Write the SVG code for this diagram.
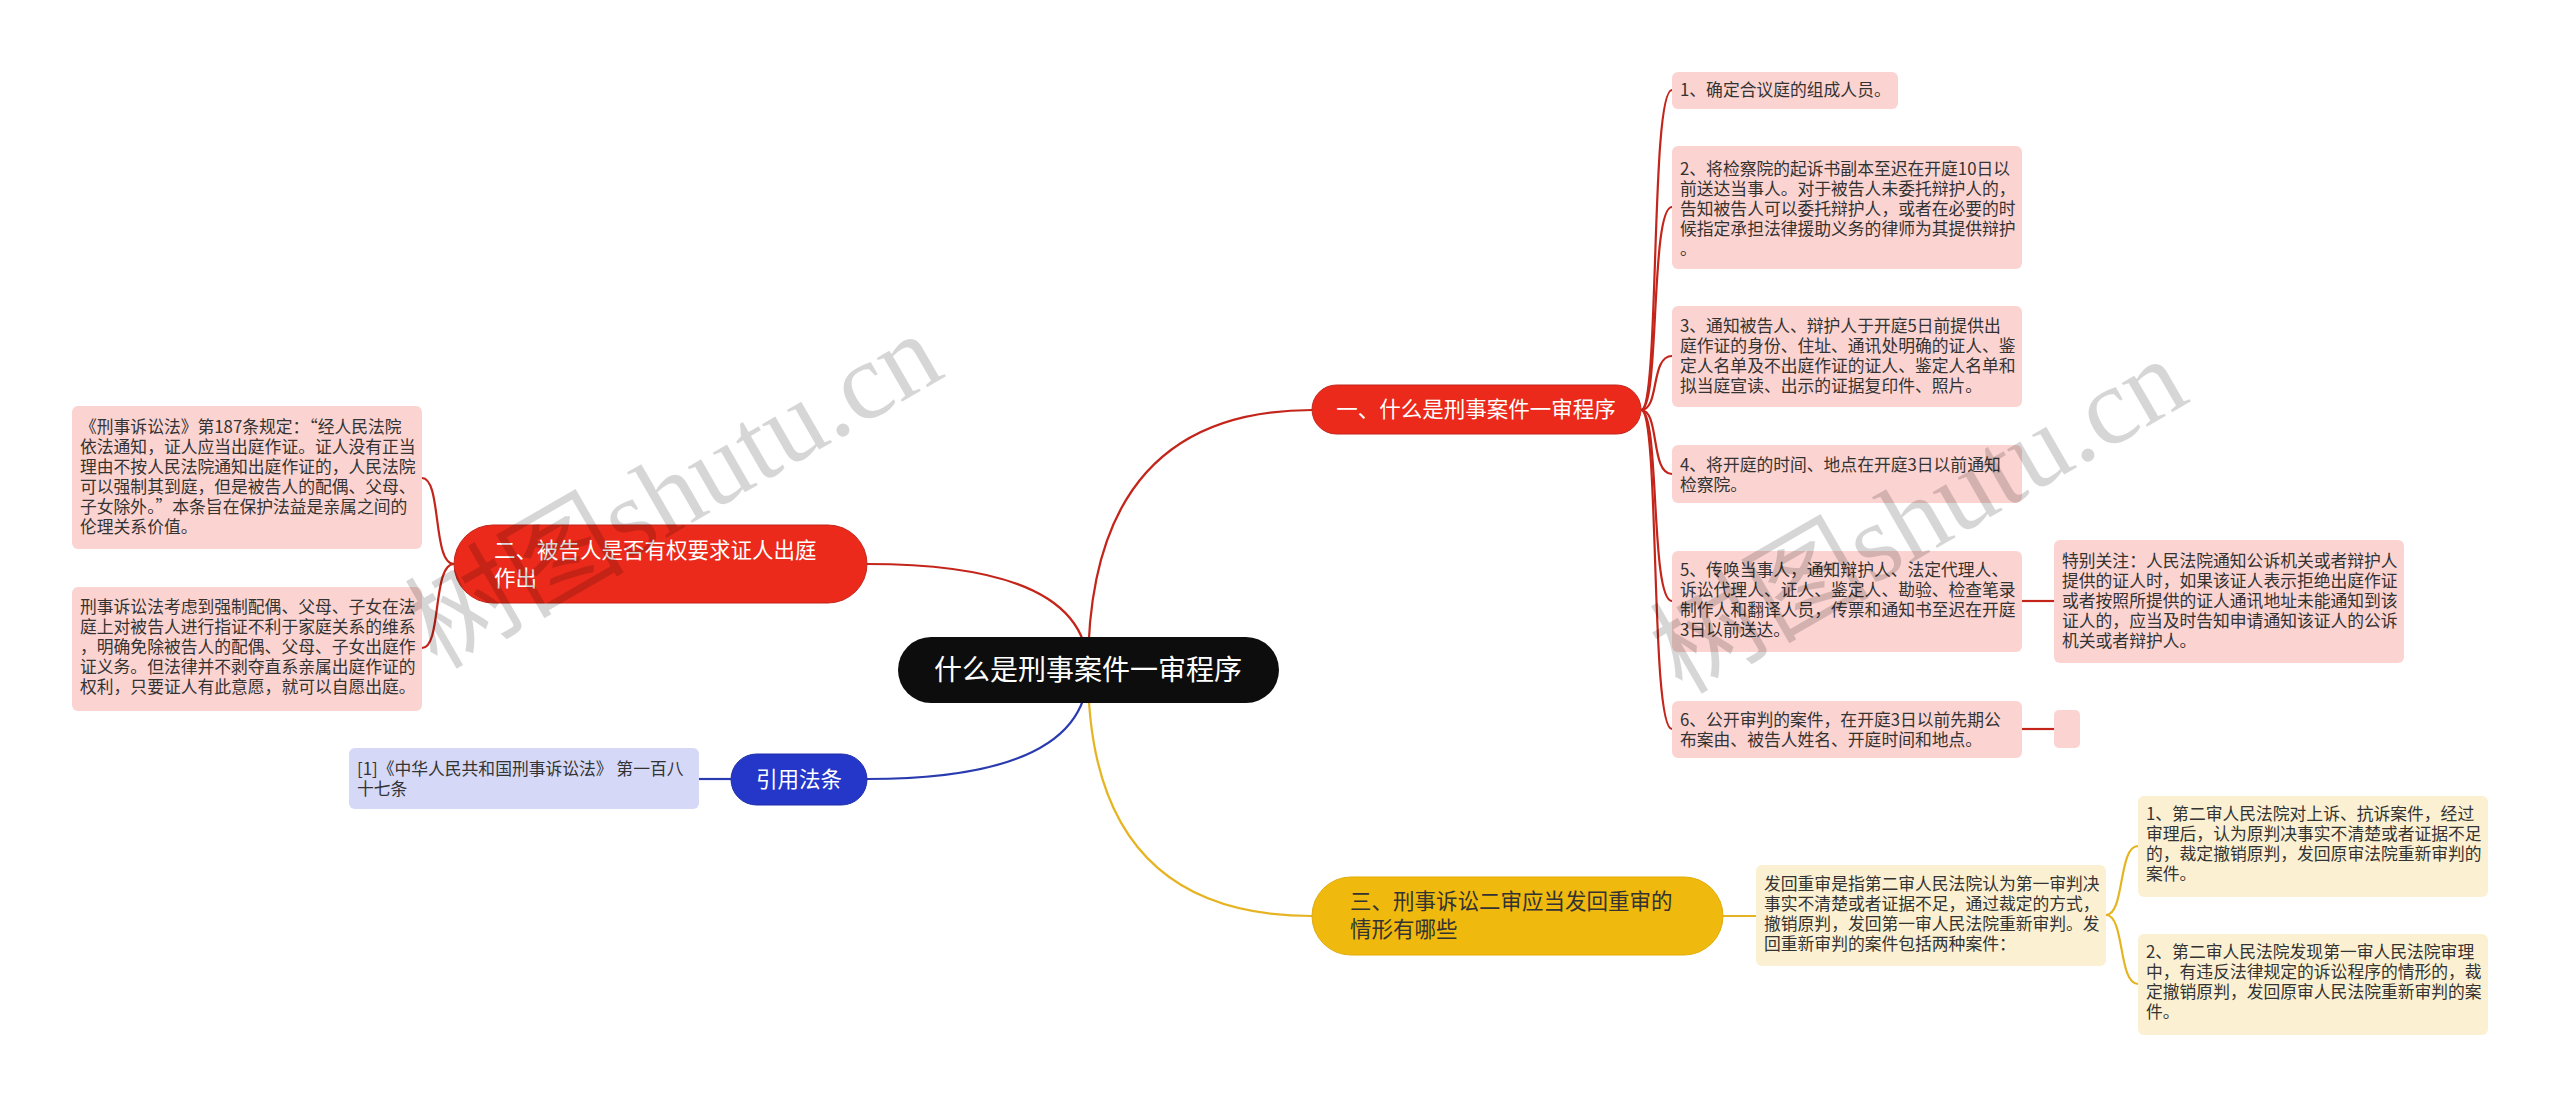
<svg xmlns="http://www.w3.org/2000/svg" width="2560" height="1108" viewBox="0 0 2560 1108">
<style>
text{font-family:"Noto Sans CJK SC","Noto Sans",sans-serif}
.leaf{font-size:16.8px;fill:#333}
.rl{fill:#fbd3d1}
.yl{fill:#fcf0d2}
.bl{fill:#d5d8f6}
.cr{fill:none;stroke:#c4251b;stroke-width:2.2}
.cy{fill:none;stroke:#e6b422;stroke-width:2.2}
.cb{fill:none;stroke:#2a3bb0;stroke-width:2.2}
.pw{fill:#fff}
.wm{font-family:"Liberation Serif","Noto Sans CJK SC",serif;font-size:110px;fill:#000;fill-opacity:0.16}
</style>
<rect width="2560" height="1108" fill="#fff"/>
<g id="connectors">
<path class="cr" d="M1088 670 Q1088 410 1312 410"/>
<path class="cr" d="M867 564 Q1088 564 1088 670"/>
<path class="cb" d="M867 779 Q1088 779 1088 670"/>
<path class="cy" d="M1088 670 Q1088 916 1312 916"/>
<path class="cr" d="M1641 410 C1660 410 1650 90 1672 90"/>
<path class="cr" d="M1641 410 C1660 410 1650 207 1672 207"/>
<path class="cr" d="M1641 410 C1660 410 1650 356 1672 356"/>
<path class="cr" d="M1641 410 C1660 410 1650 474 1672 474"/>
<path class="cr" d="M1641 410 C1660 410 1650 601 1672 601"/>
<path class="cr" d="M1641 410 C1660 410 1650 729 1672 729"/>
<path class="cr" d="M2022 601 L2054 601"/>
<path class="cr" d="M2022 729 L2054 729"/>
<path class="cr" d="M454 564 C432 564 442 478 422 478"/>
<path class="cr" d="M454 564 C432 564 442 648 422 648"/>
<path class="cb" d="M699 779 L731 779"/>
<path class="cy" d="M1723 916 L1756 916"/>
<path class="cy" d="M2106 915 C2125 915 2118 846 2138 846"/>
<path class="cy" d="M2106 915 C2125 915 2118 984 2138 984"/>
</g>
<g id="root">
<rect x="898" y="637" width="381" height="66" rx="33" fill="#0d0d0d"/>
<text x="1088" y="680" font-size="28" text-anchor="middle" class="pw">什么是刑事案件一审程序</text>
</g>
<g id="b1">
<rect x="1312" y="385" width="329" height="49" rx="24.5" fill="#eb2a1b" stroke="#c4251b"/>
<text x="1476" y="417" font-size="21.5" text-anchor="middle" class="pw">一、什么是刑事案件一审程序</text>
</g>
<g id="b2">
<rect x="454" y="525" width="413" height="78" rx="39" fill="#eb2a1b" stroke="#c4251b"/>
<text x="494" y="558" font-size="21.5" class="pw"><tspan>二、被告人是否有权要求证人出庭</tspan><tspan x="494" dy="28">作出</tspan></text>
</g>
<g id="b3">
<rect x="1312" y="877" width="411" height="78" rx="39" fill="#f0b90d" stroke="#e0ab0a"/>
<text x="1350" y="909" font-size="21.5" fill="#333"><tspan>三、刑事诉讼二审应当发回重审的</tspan><tspan x="1350" dy="28">情形有哪些</tspan></text>
</g>
<g id="b4">
<rect x="731" y="754" width="136" height="51" rx="25.5" fill="#2537c9" stroke="#1f2fa8"/>
<text x="799" y="787" font-size="21.5" text-anchor="middle" class="pw">引用法条</text>
</g>
<g id="l1">
<rect class="rl" x="1672" y="72" width="226" height="37" rx="6"/>
<text class="leaf" x="1680" y="96">1、确定合议庭的组成人员。</text>
</g>
<g id="l2">
<rect class="rl" x="1672" y="146" width="350" height="123" rx="6"/>
<text class="leaf" x="1680" y="175"><tspan>2、将检察院的起诉书副本至迟在开庭10日以</tspan><tspan x="1680" dy="20">前送达当事人。对于被告人未委托辩护人的，</tspan><tspan x="1680" dy="20">告知被告人可以委托辩护人，或者在必要的时</tspan><tspan x="1680" dy="20">候指定承担法律援助义务的律师为其提供辩护</tspan><tspan x="1680" dy="20">。</tspan></text>
</g>
<g id="l3">
<rect class="rl" x="1672" y="306" width="350" height="101" rx="6"/>
<text class="leaf" x="1680" y="332"><tspan>3、通知被告人、辩护人于开庭5日前提供出</tspan><tspan x="1680" dy="20">庭作证的身份、住址、通讯处明确的证人、鉴</tspan><tspan x="1680" dy="20">定人名单及不出庭作证的证人、鉴定人名单和</tspan><tspan x="1680" dy="20">拟当庭宣读、出示的证据复印件、照片。</tspan></text>
</g>
<g id="l4">
<rect class="rl" x="1672" y="445" width="350" height="58" rx="6"/>
<text class="leaf" x="1680" y="471"><tspan>4、将开庭的时间、地点在开庭3日以前通知</tspan><tspan x="1680" dy="20">检察院。</tspan></text>
</g>
<g id="l5">
<rect class="rl" x="1672" y="551" width="350" height="101" rx="6"/>
<text class="leaf" x="1680" y="576"><tspan>5、传唤当事人，通知辩护人、法定代理人、</tspan><tspan x="1680" dy="20">诉讼代理人、证人、鉴定人、勘验、检查笔录</tspan><tspan x="1680" dy="20">制作人和翻译人员，传票和通知书至迟在开庭</tspan><tspan x="1680" dy="20">3日以前送达。</tspan></text>
</g>
<g id="l6">
<rect class="rl" x="1672" y="701" width="350" height="57" rx="6"/>
<text class="leaf" x="1680" y="726"><tspan>6、公开审判的案件，在开庭3日以前先期公</tspan><tspan x="1680" dy="20">布案由、被告人姓名、开庭时间和地点。</tspan></text>
</g>
<g id="l5a">
<rect class="rl" x="2054" y="540" width="350" height="123" rx="6"/>
<text class="leaf" x="2062" y="567"><tspan>特别关注：人民法院通知公诉机关或者辩护人</tspan><tspan x="2062" dy="20">提供的证人时，如果该证人表示拒绝出庭作证</tspan><tspan x="2062" dy="20">或者按照所提供的证人通讯地址未能通知到该</tspan><tspan x="2062" dy="20">证人的，应当及时告知申请通知该证人的公诉</tspan><tspan x="2062" dy="20">机关或者辩护人。</tspan></text>
</g>
<g id="l6a">
<rect class="rl" x="2054" y="710" width="26" height="38" rx="5"/>
</g>
<g id="l7">
<rect class="rl" x="72" y="406" width="350" height="143" rx="6"/>
<text class="leaf" x="80" y="433"><tspan>《刑事诉讼法》第187条规定：“经人民法院</tspan><tspan x="80" dy="20">依法通知，证人应当出庭作证。证人没有正当</tspan><tspan x="80" dy="20">理由不按人民法院通知出庭作证的，人民法院</tspan><tspan x="80" dy="20">可以强制其到庭，但是被告人的配偶、父母、</tspan><tspan x="80" dy="20">子女除外。”本条旨在保护法益是亲属之间的</tspan><tspan x="80" dy="20">伦理关系价值。</tspan></text>
</g>
<g id="l8">
<rect class="rl" x="72" y="587" width="350" height="124" rx="6"/>
<text class="leaf" x="80" y="613"><tspan>刑事诉讼法考虑到强制配偶、父母、子女在法</tspan><tspan x="80" dy="20">庭上对被告人进行指证不利于家庭关系的维系</tspan><tspan x="80" dy="20">，明确免除被告人的配偶、父母、子女出庭作</tspan><tspan x="80" dy="20">证义务。但法律并不剥夺直系亲属出庭作证的</tspan><tspan x="80" dy="20">权利，只要证人有此意愿，就可以自愿出庭。</tspan></text>
</g>
<g id="l9">
<rect class="bl" x="349" y="748" width="350" height="61" rx="6"/>
<text class="leaf" x="357" y="775"><tspan>[1]《中华人民共和国刑事诉讼法》 第一百八</tspan><tspan x="357" dy="20">十七条</tspan></text>
</g>
<g id="l10">
<rect class="yl" x="1756" y="865" width="350" height="101" rx="6"/>
<text class="leaf" x="1764" y="890"><tspan>发回重审是指第二审人民法院认为第一审判决</tspan><tspan x="1764" dy="20">事实不清楚或者证据不足，通过裁定的方式，</tspan><tspan x="1764" dy="20">撤销原判，发回第一审人民法院重新审判。发</tspan><tspan x="1764" dy="20">回重新审判的案件包括两种案件：</tspan></text>
</g>
<g id="l11">
<rect class="yl" x="2138" y="796" width="350" height="101" rx="6"/>
<text class="leaf" x="2146" y="820"><tspan>1、第二审人民法院对上诉、抗诉案件，经过</tspan><tspan x="2146" dy="20">审理后，认为原判决事实不清楚或者证据不足</tspan><tspan x="2146" dy="20">的，裁定撤销原判，发回原审法院重新审判的</tspan><tspan x="2146" dy="20">案件。</tspan></text>
</g>
<g id="l12">
<rect class="yl" x="2138" y="934" width="350" height="101" rx="6"/>
<text class="leaf" x="2146" y="958"><tspan>2、第二审人民法院发现第一审人民法院审理</tspan><tspan x="2146" dy="20">中，有违反法律规定的诉讼程序的情形的，裁</tspan><tspan x="2146" dy="20">定撤销原判，发回原审人民法院重新审判的案</tspan><tspan x="2146" dy="20">件。</tspan></text>
</g>
<g id="watermark">
<text class="wm" x="673" y="528" text-anchor="middle" transform="rotate(-30 673 490)">树图shutu.cn</text>
<text class="wm" x="1918" y="553" text-anchor="middle" transform="rotate(-30 1918 515)">树图shutu.cn</text>
</g>
</svg>
